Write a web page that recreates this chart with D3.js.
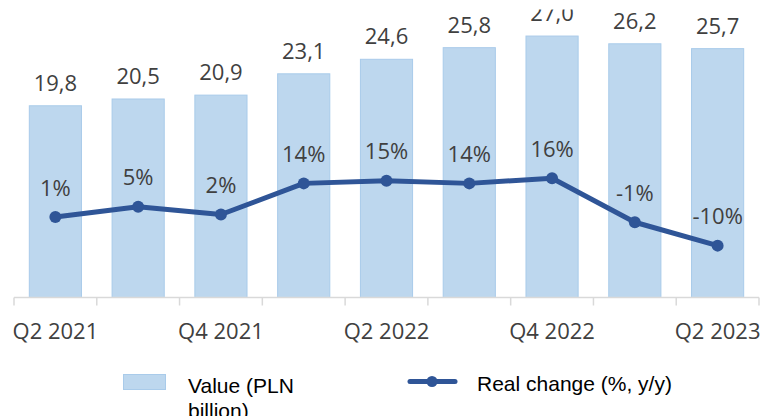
<!DOCTYPE html>
<html lang="en">
<head>
<meta charset="UTF-8">
<title>Value and real change</title>
<script src="https://d3js.org/d3.v7.min.js"></script>
<style>
html, body {
  margin: 0;
  padding: 0;
  background-color: white;
}
#chart svg {
  display: block;
}
.val-label, .pct-label, .x-axis text {
  font-family: 'Open Sans', sans-serif;
  font-size: 22px;
  fill: #404040;
}
.x-axis path, .x-axis line {
  stroke: #D9D9D9;
}
.legend text {
  font-family: 'Liberation Sans', Arial, sans-serif;
  font-size: 21px;
  fill: black;
}
</style>
</head>
<body>
<div id="chart"></div>
<script>

// --------------------------------------
// Data
// --------------------------------------

var quarters = ["Q2 2021", "Q3 2021", "Q4 2021", "Q1 2022", "Q2 2022",
                "Q3 2022", "Q4 2022", "Q1 2023", "Q2 2023"];
var values = [19.8, 20.5, 20.9, 23.1, 24.6, 25.8, 27.0, 26.2, 25.7];
var realChange = [1, 5, 2, 14, 15, 14, 16, -1, -10];
var shownTicks = ["Q2 2021", "Q4 2021", "Q2 2022", "Q4 2022", "Q2 2023"];

var data = quarters.map((q, i) => ({q: q, value: values[i], change: realChange[i]}));

// --------------------------------------
// Size
// --------------------------------------

var totalWidth = 761;
var totalHeight = 416;
var baseY = 297.5;

var svg = d3.select("#chart")
  .append("svg")
  .attr("width", totalWidth)
  .attr("height", totalHeight);

// the top of the picture is cut off
svg.append("defs").append("clipPath")
  .attr("id", "cut")
  .append("rect")
  .attr("x", 0).attr("y", 9.5)
  .attr("width", totalWidth).attr("height", totalHeight);

var g = svg.append("g").attr("clip-path", "url(#cut)");

// --------------------------------------
// Scales
// --------------------------------------

var x = d3.scaleBand()
  .domain(quarters)
  .range([14, 759])
  .paddingInner(0.37)
  .paddingOuter(0.185);

var yBar = d3.scaleLinear()
  .domain([0, 30])
  .range([baseY, 7]);

var yLine = d3.scaleLinear()
  .domain([-30, 82])
  .range([baseY, 7]);

// --------------------------------------
// Bars
// --------------------------------------

g.selectAll(".bar")
  .data(data)
  .join("rect")
  .attr("class", "bar")
  .attr("x", d => x(d.q))
  .attr("y", d => yBar(d.value))
  .attr("width", x.bandwidth())
  .attr("height", d => baseY - yBar(d.value))
  .attr("fill", "#BDD7EE")
  .attr("stroke", "#A9CBEA")
  .attr("stroke-width", 1);

g.selectAll(".val-label")
  .data(data)
  .join("text")
  .attr("class", "val-label")
  .attr("x", d => x(d.q) + x.bandwidth() / 2)
  .attr("y", d => yBar(d.value) - 15)
  .attr("text-anchor", "middle")
  .text(d => d3.format(".1f")(d.value).replace(".", ","));

// --------------------------------------
// Axis
// --------------------------------------

var xAxis = g.append("g")
  .attr("class", "x-axis")
  .attr("transform", `translate(0,${baseY})`)
  .call(d3.axisBottom(x)
    .tickSize(0)
    .tickPadding(26)
    .tickValues(shownTicks));

xAxis.select(".domain").attr("d", `M${x.range()[0]},0H${x.range()[1]}`).attr("stroke-width", 1.5);

// tick marks sit between the categories
var bounds = d3.range(quarters.length + 1).map(i => x.range()[0] + i * x.step());
xAxis.selectAll(".bound")
  .data(bounds)
  .join("line")
  .attr("class", "bound")
  .attr("x1", d => d).attr("x2", d => d)
  .attr("y1", 0).attr("y2", 8)
  .attr("stroke", "#D9D9D9")
  .attr("stroke-width", 1.5);

// --------------------------------------
// Line
// --------------------------------------

var line = d3.line()
  .x(d => x(d.q) + x.bandwidth() / 2)
  .y(d => yLine(d.change));

g.append("path")
  .datum(data)
  .attr("fill", "none")
  .attr("stroke", "#2F5597")
  .attr("stroke-width", 5)
  .attr("stroke-linejoin", "round")
  .attr("d", line);

g.selectAll(".dot")
  .data(data)
  .join("circle")
  .attr("class", "dot")
  .attr("cx", d => x(d.q) + x.bandwidth() / 2)
  .attr("cy", d => yLine(d.change))
  .attr("r", 6)
  .attr("fill", "#2F5597");

g.selectAll(".pct-label")
  .data(data)
  .join("text")
  .attr("class", "pct-label")
  .attr("x", d => x(d.q) + x.bandwidth() / 2)
  .attr("y", d => yLine(d.change) - 21.5)
  .attr("text-anchor", "middle")
  .text(d => d.change + "%");

// --------------------------------------
// Legend
// --------------------------------------

var legend = svg.append("g").attr("class", "legend");

legend.append("rect")
  .attr("x", 123.5).attr("y", 374.5)
  .attr("width", 42).attr("height", 15)
  .attr("fill", "#BDD7EE")
  .attr("stroke", "#A9CBEA");

legend.append("text")
  .attr("x", 188).attr("y", 393)
  .selectAll("tspan")
  .data(["Value (PLN", "billion)"])
  .join("tspan")
  .attr("x", 188)
  .attr("dy", (d, i) => i ? 25 : 0)
  .text(d => d);

legend.append("line")
  .attr("x1", 410).attr("x2", 455)
  .attr("y1", 381.5).attr("y2", 381.5)
  .attr("stroke", "#2F5597")
  .attr("stroke-width", 5)
  .attr("stroke-linecap", "round");

legend.append("circle")
  .attr("cx", 432).attr("cy", 381.5)
  .attr("r", 5.5)
  .attr("fill", "#2F5597");

legend.append("text")
  .attr("x", 477).attr("y", 390.5)
  .text("Real change (%, y/y)");

</script>
</body>
</html>
